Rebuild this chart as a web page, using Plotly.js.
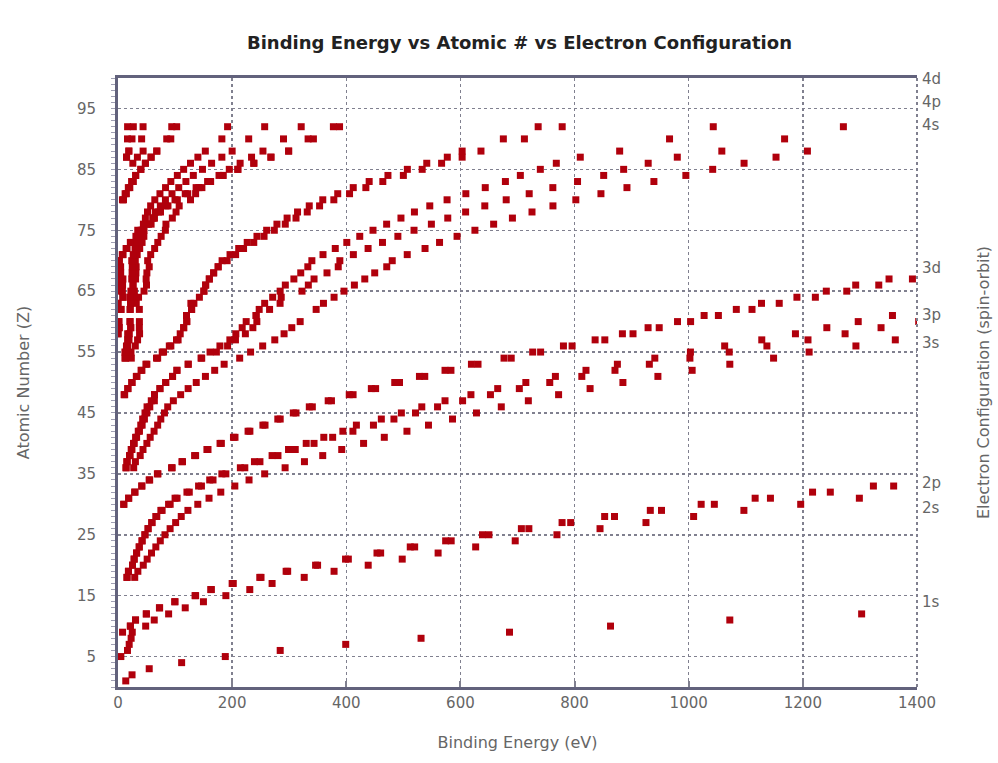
<!DOCTYPE html>
<html>
<head>
<meta charset="utf-8">
<script src="https://cdn.plot.ly/plotly-3.0.1.min.js"></script>
<style>html,body{margin:0;padding:0;background:#fff;}#chart{width:998px;height:763px;}</style>
</head>
<body>
<div id="chart"></div>
<script>
// Binding energies (eV), each array starts at the atomic number given by its *_Z0 constant
const K1s_Z0 = 1;
const K1s = [13.6, 24.6, 54.7, 111.5, 188, 284.2, 399, 531, 686, 863, 1072, 1303];

// light-element valence levels
const lightZ = [5, 6, 7, 8, 9, 9];
const lightE = [5, 16.6, 19.6, 23, 8, 25];

const L1_2s_Z0 = 10;
const L1_2s = [48.5, 63.5, 88.7, 117.8, 149.7, 189, 230.9, 270, 326.3, 378.6, 438.4, 498.0, 560.9, 626.7, 696.0, 769.1, 844.6, 925.1, 1008.6, 1096.7, 1196.2, 1299.0, 1414.6];

const L2_2p12_Z0 = 10;
const L2_2p12 = [21.7, 30.65, 49.78, 72.95, 99.82, 136, 163.6, 202, 250.6, 297.3, 349.7, 403.6, 460.2, 519.8, 583.8, 649.9, 719.9, 793.2, 870.0, 952.3, 1044.9, 1143.2, 1248.1, 1359.1];

const L3_2p32_Z0 = 10;
const L3_2p32 = [21.6, 30.81, 49.50, 72.55, 99.42, 135, 162.5, 200, 248.4, 294.6, 346.2, 398.7, 453.8, 512.1, 574.1, 638.7, 706.8, 778.1, 852.7, 932.7, 1021.8, 1116.4, 1217.0, 1323.6];

const M1_3s_Z0 = 18;
const M1_3s = [29.3, 34.8, 44.3, 51.1, 58.7, 66.3, 74.1, 82.3, 91.3, 101.0, 110.8, 122.5, 139.8, 159.5, 180.1, 204.7, 229.6, 257, 292.8, 326.7, 358.7, 392.0, 430.3, 466.6, 506.3, 544, 586.1, 628.1, 671.6, 719.0, 772.0, 827.2, 884.7, 946, 1006, 1072, 1148.7, 1211, 1293, 1362];

const M2_3p12_Z0 = 18;
const M2_3p12 = [15.9, 18.3, 25.4, 28.3, 32.6, 37.2, 42.2, 47.2, 52.7, 58.9, 68.0, 77.3, 91.4, 103.5, 124.9, 146.2, 166.5, 189, 222.2, 248.7, 280.3, 310.6, 343.5, 376.1, 411.6, 447.6, 483.5, 521.3, 559.9, 603.8, 652.6, 703.2, 756.5, 812.7, 870.8, 931, 1002.1, 1071, 1137, 1209, 1274, 1337, 1403];

const M3_3p32_Z0 = 18;
const M3_3p32 = [15.7, 18.3, 25.4, 28.3, 32.6, 37.2, 42.2, 47.2, 52.7, 59.9, 66.2, 75.1, 88.6, 100.0, 120.8, 141.2, 160.7, 182, 214.4, 239.1, 270.0, 298.8, 329.8, 360.6, 394.0, 417.7, 461.4, 496.5, 532.3, 573.0, 618.4, 665.3, 714.6, 766.4, 820.0, 875, 940.6, 1003, 1063, 1128, 1187, 1242, 1297, 1357];

const M4_3d32_Z0 = 30;
const M4_3d32 = [10.2, 18.7, 29.8, 41.7, 55.5, 70, 95.0, 113.0, 136.0, 157.7, 181.1, 205.0, 231.1, 257.6, 284.2, 311.9, 340.5, 374.0, 411.9, 451.4, 493.2, 537.5, 583.4, 630.8, 689.0, 740.5, 795.7, 853, 902.4, 948.3, 1003.3, 1052, 1110.9, 1158.6, 1221.9, 1276.9, 1333, 1392];

const M5_3d52_Z0 = 30;
const M5_3d52 = [10.1, 18.7, 29.2, 41.7, 54.6, 69, 93.8, 112, 134.2, 155.8, 178.8, 202.3, 227.9, 253.9, 280.0, 307.2, 335.2, 368.3, 405.2, 443.9, 484.9, 528.2, 573.0, 619.3, 676.4, 726.6, 780.5, 836, 883.8, 928.8, 980.4, 1027, 1083.4, 1127.5, 1189.6, 1241.1, 1292.6, 1351];

const N1_4s_Z0 = 36;
const N1_4s = [27.5, 30.5, 38.9, 43.8, 50.6, 56.4, 63.2, 69.5, 75.0, 81.4, 87.1, 97.0, 109.8, 122.9, 137.1, 153.2, 169.4, 186, 213.2, 232.3, 253.5, 274.7, 291.0, 304.5, 319.2, null, 347.2, 360, 378.6, 396.0, 414.2, 432.4, 449.8, 470.9, 480.5, 506.8, 538, 563.4, 594.1, 625.4, 658.2, 691.1, 725.4, 762.1, 802.2, 846.2, 891.8, 939, 995, 1042, 1097, 1153, 1208];

const N2_4p12_Z0 = 36;
const N2_4p12 = [14.1, 16.3, 21.3, 24.4, 28.5, 32.6, 37.6, 42.3, 46.3, 50.5, 55.7, 63.7, 63.9, 73.5, 83.6, 95.6, 103.3, 123, 146.7, 172.4, 192, 205.8, 223.2, 236.3, 243.3, 242, 265.6, 284, 286, 322.4, 333.5, 343.5, 366.2, 385.9, 388.7, 412.4, 438.2, 463.4, 490.4, 518.7, 549.1, 577.8, 609.1, 642.7, 680.2, 720.5, 761.9, 805.2, 851, 886, 929, 980, 1058, null, 1168, null, 1271];

const N3_4p32_Z0 = 36;
const N3_4p32 = [14.1, 15.3, 20.1, 23.1, 27.1, 30.8, 35.5, 39.9, 43.2, 47.3, 50.9, 58.3, 63.9, 73.5, 83.6, 95.6, 103.3, 123, 145.5, 161.3, 178.6, 196.0, 206.5, 217.6, 224.6, 242, 247.4, 257, 271, 284.1, 293.2, 308.2, 320.2, 332.6, 339.7, 359.2, 380.7, 400.9, 423.6, 446.8, 470.7, 495.8, 519.4, 546.3, 576.6, 609.5, 643.5, 678.8, 705, 740, 768, 810, 879, null, 966.4, null, 1043];

const N4_4d32_Z0 = 48;
const N4_4d32 = [11.7, 17.7, 24.9, 33.3, 41.9, 50.6, 69.5, 79.8, 92.6, 105.3, 109, 115.1, 120.5, 120, 129, 133, null, 150.5, 153.6, 160, 167.6, 175.5, 191.2, 206.1, 220.0, 237.9, 255.9, 273.9, 293.1, 311.9, 331.6, 353.2, 378.2, 405.7, 434.3, 464.0, 500, 533, 567, 603, 636, null, 712.1, null, 778.3];

const N5_4d52_Z0 = 48;
const N5_4d52 = [10.7, 16.9, 23.9, 32.1, 40.4, 48.9, 67.5, 77.5, 89.9, 102.5, null, 115.1, 120.5, 120, 129, 127.7, 142.6, 150.5, 153.6, 160, 167.6, 175.5, 182.4, 196.3, 211.5, 226.4, 243.5, 260.5, 278.5, 296.3, 314.6, 335.1, 358.8, 385.0, 412.2, 440.1, 473, 507, 541, 577, 603, null, 675.2, null, 736.2];

const N6_4f52_Z0 = 58;
const N6_4f52 = [0.1, 2.0, 1.5, null, 5.2, 0, 8.6, 7.7, 8.0, 8.6, null, null, 2.5, 8.9, 15.9, 23.5, 33.6, 42.9, 53.4, 63.8, 74.5, 87.6, 104.0, 122.2, 141.7, 162.3, 184, 210, 238, 268, 299, null, 342.4, null, 388.2];

const N7_4f72_Z0 = 58;
const N7_4f72 = [0.1, 2.0, 1.5, null, 5.2, 0, 8.6, 2.4, 4.3, 5.2, 4.7, 4.6, 1.3, 7.5, 14.2, 21.6, 31.4, 40.5, 50.7, 60.8, 71.2, 84.0, 99.9, 117.8, 136.9, 157.0, 184, 210, 238, 268, 299, null, 333.1, null, 377.4];

const O1_5s_Z0 = 54;
const O1_5s = [23.3, 22.7, 30.3, 34.3, 37.8, 37.4, 37.5, null, 37.4, 32, 36, 45.6, 49.9, 49.3, 50.6, 54.7, 52.0, 57.3, 64.2, 69.7, 75.6, 83, 84, 95.2, 101.7, 107.2, 127, 136, 147, 159.3, 177, 195, 214, 234, 254, null, 290, null, 321];

const O2_5p12_Z0 = 54;
const O2_5p12 = [13.4, 14.2, 17.0, 19.3, 19.8, 22.3, 21.1, null, 21.3, 22, 28, 28.7, 26.3, 30.8, 31.4, 31.8, 30.3, 33.6, 38, 42.2, 45.3, 45.6, 58, 63.0, 65.3, 74.2, 83.1, 94.6, 106.4, 119.0, 132, 148, 164, 182, 200, null, 229, null, 257];

const O3_5p32_Z0 = 54;
const O3_5p32 = [12.1, 12.1, 14.8, 16.8, 17.0, 22.3, 21.1, null, 21.3, 22, 21, 22.6, 26.3, 24.1, 24.7, 25.0, 24.1, 26.7, 29.9, 32.7, 36.8, 34.6, 44.5, 48.0, 51.7, 57.2, 64.5, 73.5, 83.3, 92.6, 104, 115, 127, 140, 153, null, 182, null, 192];

const O4_5d32_Z0 = 80;
const O4_5d32 = [9.6, 14.7, 20.7, 26.9, 31, 40, 48, 58, 68, null, 92.5, null, 102.8];

const O5_5d52_Z0 = 80;
const O5_5d52 = [7.8, 12.5, 18.1, 23.8, 31, 40, 48, 58, 68, null, 85.4, null, 94.2];

const P1_6s_Z0 = 86;
const P1_6s = [26, 34, 44, null, 41.4, null, 43.9];

const P2_6p12_Z0 = 87;
const P2_6p12 = [15, 19, null, 24.5, null, 26.8];

const P3_6p32_Z0 = 87;
const P3_6p32 = [15, 19, null, 16.6, null, 16.8];

// right-axis labels (electron configuration) and their positions on the Z scale
const configLabels = ['4d', '4p', '4s', '3d', '3p', '3s', '2p', '2s', '1s'];
const configPos = [99.9, 96.1, 92.3, 68.8, 61.1, 56.6, 33.5, 29.5, 14.0];

const xTicks = [0, 200, 400, 600, 800, 1000, 1200, 1400];
const yTicks = [5, 15, 25, 35, 45, 55, 65, 75, 85, 95];

const MARK = {symbol: 'square', size: 7, color: '#b0000c'};

function series(z0, energies) {
  return {
    type: 'scatter', mode: 'markers', showlegend: false, cliponaxis: true,
    x: energies, y: energies.map((e, i) => z0 + i), marker: MARK
  };
}

const traces = [
  series(K1s_Z0, K1s),
  {type: 'scatter', mode: 'markers', showlegend: false, x: lightE, y: lightZ, marker: MARK},
  series(L1_2s_Z0, L1_2s), series(L2_2p12_Z0, L2_2p12), series(L3_2p32_Z0, L3_2p32),
  series(M1_3s_Z0, M1_3s), series(M2_3p12_Z0, M2_3p12), series(M3_3p32_Z0, M3_3p32),
  series(M4_3d32_Z0, M4_3d32), series(M5_3d52_Z0, M5_3d52),
  series(N1_4s_Z0, N1_4s), series(N2_4p12_Z0, N2_4p12), series(N3_4p32_Z0, N3_4p32),
  series(N4_4d32_Z0, N4_4d32), series(N5_4d52_Z0, N5_4d52),
  series(N6_4f52_Z0, N6_4f52), series(N7_4f72_Z0, N7_4f72),
  series(O1_5s_Z0, O1_5s), series(O2_5p12_Z0, O2_5p12), series(O3_5p32_Z0, O3_5p32),
  series(O4_5d32_Z0, O4_5d32), series(O5_5d52_Z0, O5_5d52),
  series(P1_6s_Z0, P1_6s), series(P2_6p12_Z0, P2_6p12), series(P3_6p32_Z0, P3_6p32),
  {type: 'scatter', mode: 'markers', showlegend: false, x: [null], y: [null], yaxis: 'y2', hoverinfo: 'skip'}
];

const GRID = '#80808f';
const FRAME = '#62627c';
const TXT = '#666666';
const FONT = 'DejaVu Sans, Verdana, sans-serif';

const layout = {
  width: 998, height: 763,
  margin: {l: 118, r: 81, t: 78, b: 76, autoexpand: false},
  paper_bgcolor: '#ffffff', plot_bgcolor: '#ffffff',
  font: {family: FONT, color: TXT, size: 13},
  title: {
    text: '<b>Binding Energy vs Atomic # vs Electron Configuration</b>',
    x: 0.5205, xref: 'container', xanchor: 'center',
    y: 1 - 43 / 763, yref: 'container', yanchor: 'middle',
    font: {family: FONT, size: 18, color: '#222222'}
  },
  xaxis: {
    range: [0, 1400], tickvals: xTicks, ticktext: xTicks.map(String),
    showgrid: true, gridcolor: GRID, griddash: 'dot', gridwidth: 1.5,
    zeroline: false, showline: true, linecolor: FRAME, linewidth: 3, mirror: true,
    ticks: 'inside', ticklen: 6, tickcolor: GRID, tickwidth: 2,
    tickfont: {family: FONT, size: 15, color: TXT},
    title: {text: 'Binding Energy (eV)', font: {family: FONT, size: 16, color: TXT}, standoff: 26},
    automargin: false
  },
  yaxis: {
    range: [0, 100], tickvals: yTicks, ticktext: yTicks.map(String),
    showgrid: true, gridcolor: GRID, griddash: 'dot', gridwidth: 1.5,
    zeroline: false, showline: true, linecolor: FRAME, linewidth: 3,
    ticks: 'outside', ticklen: 4, tickcolor: '#a0a0b4', tickwidth: 1,
    ticklabelstandoff: 12,
    minor: {dtick: 1, tick0: 0, ticks: 'outside', ticklen: 4, tickcolor: '#a0a0b4', tickwidth: 1, showgrid: false},
    tickfont: {family: FONT, size: 15, color: TXT},
    title: {text: 'Atomic Number (Z)', font: {family: FONT, size: 16, color: TXT}, standoff: 44},
    automargin: false
  },
  yaxis2: {
    overlaying: 'y', side: 'right', range: [0, 100],
    tickmode: 'array', tickvals: configPos, ticktext: configLabels,
    showgrid: false, zeroline: false, showline: false, ticks: '',
    ticklabelstandoff: 4,
    tickfont: {family: FONT, size: 15, color: TXT},
    title: {text: 'Electron Configuration (spin-orbit)', font: {family: FONT, size: 16, color: TXT}, standoff: 37},
    automargin: false
  },
  shapes: [
    {type: 'line', xref: 'paper', yref: 'paper', x0: 1, x1: 1, y0: 0, y1: 1,
     line: {color: GRID, width: 2, dash: 'dot'}}
  ]
};

Plotly.newPlot('chart', traces, layout, {staticPlot: true, displayModeBar: false});
</script>
</body>
</html>
